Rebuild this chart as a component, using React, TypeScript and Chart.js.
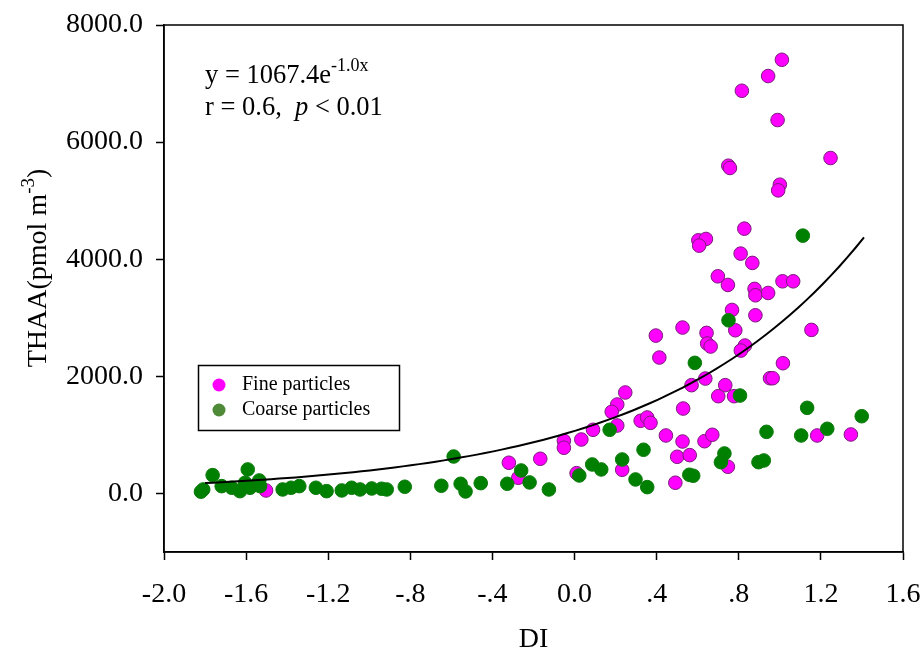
import React, { useEffect, useRef } from "react";
import { Chart, registerables } from "chart.js";

Chart.register(...registerables);

// Fine particles: DI (x) vs THAA (y, pmol m-3)
const fineDI = [
  1.01, 0.943, 0.815, 0.989, 0.749, 0.757, 1.247, 1.0, 0.992,
  0.827, 0.603, 0.64, 0.607, 0.809, 0.866, 0.698, 0.747, 0.877, 0.881, 0.943,
  1.013, 1.065, 0.767, 0.881, 0.783, 0.526, 1.154, 0.643, 0.646, 0.663,
  0.83, 0.81, 1.015, 0.952, 0.965, 0.57, 0.637, 0.734, 0.7, 0.777, 0.529,
  0.445, 0.526, 0.633, 0.671, 1.182, 1.346, 0.5, 0.561, 0.747, 0.491,
  0.396, 0.413, 0.247, 0.208, 0.181,
  0.208, 0.322, 0.354, 0.37, 0.09, 0.033, -0.052, -0.052, -0.167, -0.32, -0.274, 0.232, 0.01,
  -1.503,
];
const fineTHAA = [
  7406, 7128, 6877, 6377, 5597, 5558, 5728, 5273, 5176,
  4522, 4323, 4346, 4232, 4096, 3937, 3708, 3561, 3493, 3384, 3424,
  3623, 3623, 3134, 3043, 2787, 2833, 2793, 2742, 2560, 2509,
  2526, 2440, 2224, 1968, 1968, 1849, 1962, 1849, 1661, 1661, 1450,
  990, 887, 892, 1002, 990, 1007, 626, 654, 456, 183,
  2696, 2321, 1724, 1519, 1394,
  1160, 1241, 1297, 1206, 1087, 921, 899, 780, 592, 524, 268, 404, 346,
  51,
];

// Coarse particles
const coarseDI = [
  1.112, 0.75, 0.586, 0.806, 1.133, 1.399, 0.935, 1.104, 1.231, 0.73,
  0.713, 0.896, 0.922, 0.559, 0.578,
  0.171, 0.336, -0.589, 0.232, -0.26, 0.086, 0.13, 0.023, 0.297, 0.354,
  -0.827, -0.649, -0.555, -0.531, -0.457, -0.328, -0.219, -0.125,
  -1.809, -1.82, -1.763, -1.719, -1.67, -1.63, -1.592, -1.605, -1.581, -1.536,
  -1.532, -1.422, -1.381, -1.341, -1.26, -1.208, -1.134, -1.086, -1.045,
  -0.988, -0.94, -0.915,
];
const coarseTHAA = [
  4403, 2957, 2230, 1672, 1462, 1319, 1052, 990, 1104, 683,
  534, 534, 563, 319, 302,
  1087, 746, 631, 580, 392, 495, 410, 307, 239, 108,
  114, 131, 165, 34, 176, 165, 188, 68,
  68, 30, 313, 125, 97, 39, 410, 182, 97, 222,
  125, 68, 97, 125, 97, 39, 51, 97, 68,
  85, 80, 68,
];

// Fitted curve y = a * e^(b x), drawn between these DI limits
const fitA = 1067.4;
const fitB = 1.0;
const fitRange = [-1.8, 1.41];

const xTickValues = [-2.0, -1.6, -1.2, -0.8, -0.4, 0.0, 0.4, 0.8, 1.2, 1.6];
const xTickLabels = ["-2.0", "-1.6", "-1.2", "-.8", "-.4", "0.0", ".4", ".8", "1.2", "1.6"];
const yTickValues = [0, 2000, 4000, 6000, 8000];
const yTickLabels = ["0.0", "2000.0", "4000.0", "6000.0", "8000.0"];

const seriesNames = ["Fine particles", "Coarse particles"];

const SERIF = '"Liberation Serif", "Times New Roman", serif';

export default function App() {
  const ref = useRef<HTMLCanvasElement | null>(null);

  useEffect(() => {
    const canvas = ref.current;
    if (!canvas) return;

    const fine = fineDI.map((x, i) => ({ x, y: fineTHAA[i] }));
    const coarse = coarseDI.map((x, i) => ({ x, y: coarseTHAA[i] }));
    const fit: { x: number; y: number }[] = [];
    const n = 80;
    for (let i = 0; i <= n; i++) {
      const x = fitRange[0] + ((fitRange[1] - fitRange[0]) * i) / n;
      fit.push({ x, y: fitA * Math.exp(fitB * x) });
    }

    const decor = {
      id: "decor",
      afterDraw(chart: any) {
        const ctx = chart.ctx as CanvasRenderingContext2D;
        const a = chart.chartArea;
        ctx.save();
        // frame
        ctx.strokeStyle = "#000";
        ctx.lineWidth = 1.5;
        ctx.strokeRect(a.left, a.top, a.right - a.left, a.bottom - a.top);

        ctx.fillStyle = "#000";
        // x title
        ctx.font = `28px ${SERIF}`;
        ctx.textAlign = "center";
        ctx.textBaseline = "middle";
        ctx.fillText("DI", (a.left + a.right) / 2, 640);

        // y title with superscript
        ctx.save();
        ctx.translate(37, 268);
        ctx.rotate(-Math.PI / 2);
        const main = "THAA(pmol m";
        const sup = "-3";
        const close = ")";
        ctx.font = `28px ${SERIF}`;
        const w1 = ctx.measureText(main).width;
        const w3 = ctx.measureText(close).width;
        ctx.font = `19px ${SERIF}`;
        const w2 = ctx.measureText(sup).width;
        const total = w1 + w2 + w3;
        let cx = -total / 2;
        ctx.textAlign = "left";
        ctx.textBaseline = "alphabetic";
        ctx.font = `28px ${SERIF}`;
        ctx.fillText(main, cx, 9);
        cx += w1;
        ctx.font = `19px ${SERIF}`;
        ctx.fillText(sup, cx, -3);
        cx += w2;
        ctx.font = `28px ${SERIF}`;
        ctx.fillText(close, cx, 9);
        ctx.restore();

        // equation
        ctx.textAlign = "left";
        ctx.textBaseline = "alphabetic";
        let ex = 205;
        ctx.font = `26.5px ${SERIF}`;
        const eq1 = `y = ${fitA.toFixed(1)}e`;
        ctx.fillText(eq1, ex, 83);
        ex += ctx.measureText(eq1).width;
        ctx.font = `18px ${SERIF}`;
        ctx.fillText("-1.0x", ex, 71);

        ex = 205;
        ctx.font = `26.5px ${SERIF}`;
        const r1 = "r = 0.6,  ";
        ctx.fillText(r1, ex, 115);
        ex += ctx.measureText(r1).width;
        ctx.font = `italic 26.5px ${SERIF}`;
        ctx.fillText("p", ex, 115);
        ex += ctx.measureText("p").width;
        ctx.font = `26.5px ${SERIF}`;
        ctx.fillText(" < 0.01", ex, 115);

        // legend
        ctx.lineWidth = 1.5;
        ctx.strokeRect(198.5, 365.5, 201, 65);
        const legendColors = ["#FF00FF", "#4E8A37"];
        const rows = [385, 410];
        ctx.font = `20px ${SERIF}`;
        ctx.textBaseline = "middle";
        rows.forEach((yy, i) => {
          ctx.beginPath();
          ctx.arc(219, yy, 6.5, 0, Math.PI * 2);
          ctx.fillStyle = legendColors[i];
          ctx.fill();
          ctx.fillStyle = "#000";
          ctx.fillText(seriesNames[i], 242, yy);
        });
        ctx.restore();
      },
    };

    const tickFont = { family: SERIF, size: 28 };

    const chart = new Chart(canvas, {
      type: "scatter",
      data: {
        datasets: [
          {
            type: "line",
            label: "fit",
            data: fit,
            borderColor: "#000",
            borderWidth: 2,
            pointRadius: 0,
            showLine: true,
            fill: false,
            tension: 0,
            order: 0,
          } as any,
          {
            label: seriesNames[1],
            data: coarse,
            backgroundColor: "#008000",
            borderColor: "#0A7A0A",
            borderWidth: 1,
            pointRadius: 6.8,
            order: 1,
          },
          {
            label: seriesNames[0],
            data: fine,
            backgroundColor: "#FF00FF",
            borderColor: "#7A1A7A",
            borderWidth: 1,
            pointRadius: 6.8,
            order: 2,
          },
        ],
      },
      options: {
        responsive: false,
        animation: false,
        events: [],
        layout: { padding: { left: 0, top: 25, right: 20, bottom: 0 } },
        plugins: {
          legend: { display: false },
          tooltip: { enabled: false },
          title: { display: false },
        },
        scales: {
          x: {
            type: "linear",
            min: -2,
            max: 1.6,
            afterBuildTicks: (scale: any) => {
              scale.ticks = xTickValues.map((v) => ({ value: v }));
            },
            afterFit: (scale: any) => {
              scale.height = 105;
              scale.paddingLeft = 0;
              scale.paddingRight = 0;
            },
            ticks: {
              font: tickFont,
              color: "#000",
              padding: 18,
              maxRotation: 0,
              autoSkip: false,
              callback: (_v: any, i: number) => xTickLabels[i],
            },
            grid: {
              display: true,
              drawOnChartArea: false,
              drawTicks: true,
              tickLength: 8,
              tickWidth: 1.5,
              color: "#000",
            },
            border: { display: true, color: "#000", width: 1.5 },
          },
          y: {
            type: "linear",
            min: -1000,
            max: 8000,
            afterBuildTicks: (scale: any) => {
              scale.ticks = yTickValues.map((v) => ({ value: v }));
            },
            afterFit: (scale: any) => {
              scale.width = 164;
              scale.paddingTop = 0;
              scale.paddingBottom = 0;
            },
            ticks: {
              font: tickFont,
              color: "#000",
              padding: 13,
              autoSkip: false,
              callback: (_v: any, i: number) => yTickLabels[i],
            },
            grid: {
              display: true,
              drawOnChartArea: false,
              drawTicks: true,
              tickLength: 8,
              tickWidth: 1.5,
              color: "#000",
            },
            border: { display: true, color: "#000", width: 1.5 },
          },
        },
      },
      plugins: [decor],
    });

    return () => chart.destroy();
  }, []);

  return (
    <div style={{ position: "fixed", left: 0, top: 0, width: 923, height: 657, background: "#fff" }}>
      <canvas ref={ref} width={923} height={657} style={{ display: "block", width: 923, height: 657 }} />
    </div>
  );
}
